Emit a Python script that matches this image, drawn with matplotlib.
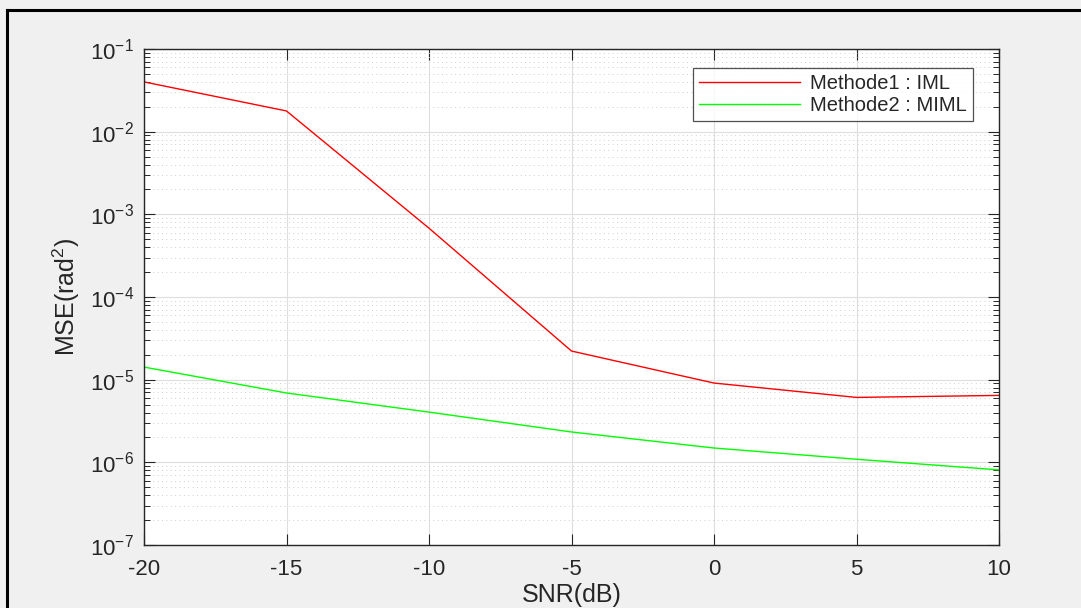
import matplotlib
matplotlib.use("Agg")
import matplotlib.pyplot as plt
from matplotlib.lines import Line2D
from matplotlib.ticker import LogLocator, NullFormatter

plt.rcParams['font.family'] = ['Liberation Sans', 'DejaVu Sans']
plt.rcParams['axes.unicode_minus'] = False
plt.rcParams['mathtext.fontset'] = 'custom'
plt.rcParams['mathtext.rm'] = 'Liberation Sans'

snr = [-20, -15, -10, -5, 0, 5, 10]
mse_iml = [4.0e-2, 1.78e-2, 6.8e-4, 2.22e-5, 9.1e-6, 6.1e-6, 6.45e-6]
mse_miml = [1.42e-5, 6.9e-6, 4.05e-6, 2.33e-6, 1.49e-6, 1.09e-6, 8.1e-7]
labels = ['Methode1 : IML', 'Methode2 : MIML']
xticks = [-20, -15, -10, -5, 0, 5, 10]

W, H = 1081, 608
fig = plt.figure(figsize=(W / 100, H / 100), dpi=100, facecolor='#f0f0f0')
ax = fig.add_axes([144 / W, (H - 545) / H, (999 - 144) / W, (545 - 49) / H])
ax.set_facecolor('white')

ax.semilogy(snr, mse_iml, color='#ff0000', lw=1.0, label=labels[0])
ax.semilogy(snr, mse_miml, color='#00ff00', lw=1.0, label=labels[1])

ax.set_xlim(-20, 10)
ax.set_ylim(1e-7, 1e-1)
ax.set_xticks(xticks)
ax.yaxis.set_major_locator(LogLocator(base=10, numticks=10))
ax.yaxis.set_minor_locator(LogLocator(base=10, subs=range(2, 10), numticks=20))
ax.yaxis.set_minor_formatter(NullFormatter())

ax.grid(True, which='major', color='#dedede', lw=0.8, ls='-')
ax.grid(True, which='minor', axis='y', color='#cfcfcf', lw=0.7, ls=(0, (1, 3.5)))
ax.set_axisbelow(True)

for s in ax.spines.values():
    s.set_color('#262626')
    s.set_linewidth(1.0)
ax.tick_params(which='both', direction='in', top=True, right=True, colors='#262626',
               labelsize=16, labelcolor='#262626')
ax.tick_params(which='major', length=8, width=0.8)
ax.tick_params(axis='x', which='major', pad=10)
ax.tick_params(axis='y', which='major', pad=7)
ax.tick_params(which='minor', length=4, width=0.7)

ax.set_xlabel('SNR(dB)', fontsize=18, color='#262626', labelpad=2)
ax.set_ylabel('MSE(rad$^2$)', fontsize=18, color='#262626', labelpad=6)

leg = ax.legend(loc='upper right', bbox_to_anchor=((973 - 144) / (999 - 144), 1 - (68 - 49) / (545 - 49)),
                fontsize=14.5, frameon=True, fancybox=False, handlelength=5.0,
                borderaxespad=0, borderpad=0.3, labelspacing=0.15, handletextpad=0.5)
leg.get_frame().set_edgecolor('#262626')
leg.get_frame().set_linewidth(0.9)
for t in leg.get_texts():
    t.set_color('#262626')

# outer black frame (left and top edges visible, rest beyond image)
fx = 7.5 / W
fy = 1 - 10 / H
fig.add_artist(Line2D([fx, fx], [0, fy], transform=fig.transFigure, color='black', lw=2.2))
fig.add_artist(Line2D([fx, 1], [fy, fy], transform=fig.transFigure, color='black', lw=2.2))

fig.savefig('out.png', dpi=100, facecolor=fig.get_facecolor())
